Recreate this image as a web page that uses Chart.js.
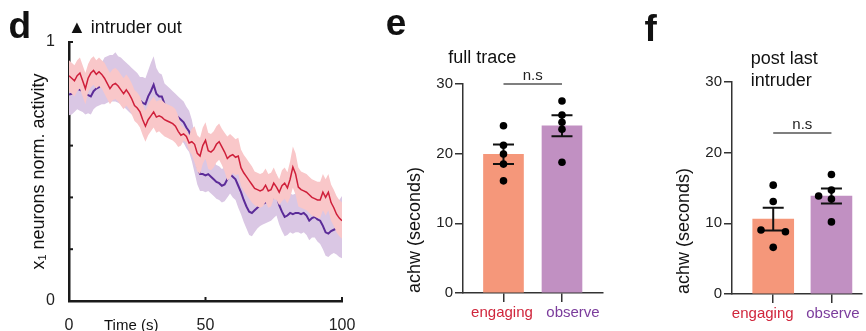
<!DOCTYPE html>
<html>
<head>
<meta charset="utf-8">
<script src="https://cdn.jsdelivr.net/npm/chart.js@4.4.0/dist/chart.umd.min.js"></script>
<style>
  html, body { margin: 0; padding: 0; background: #fff; }
  #wrap { position: relative; width: 866px; height: 331px; overflow: hidden; font-family: 'Liberation Sans', Arial, sans-serif; color: #111; }
  #wrap canvas { position: absolute; left: 0; top: 0; }
  .t { position: absolute; line-height: 1; white-space: nowrap; }
  .big { font-size: 37px; font-weight: bold; }
  .mid { font-size: 18px; }
</style>
</head>
<body>
<div id="wrap">
  <canvas id="cD" width="866" height="331"></canvas>
  <canvas id="cE" width="866" height="331"></canvas>
  <canvas id="cF" width="866" height="331"></canvas>
  <div class="t big" style="left:8.6px; top:7px;">d</div>
  <div class="t mid" style="left:68px; top:17.8px;">▲ intruder out</div>
  <div class="t" style="left:104px; top:317px; font-size:15px;">Time (s)</div>
  <div class="t big" style="left:385.7px; top:3.7px;">e</div>
  <div class="t mid" style="left:448.3px; top:47.8px;">full trace</div>
  <div class="t big" style="left:644.6px; top:10.4px;">f</div>
  <div class="t mid" style="left:750.7px; top:48.8px;">post last</div>
  <div class="t mid" style="left:750.7px; top:70.8px;">intruder</div>
</div>
<script>
// ---------- Panel d data (time in s, normalized activity) ----------
const timeS = Array.from({length: 101}, (_, i) => i);
const engagingMean = [
  0.87,0.86,0.85,0.87,0.88,0.85,0.82,0.86,0.88,0.89,
  0.875,0.885,0.875,0.86,0.84,0.82,0.835,0.84,0.83,0.815,
  0.80,0.815,0.80,0.78,0.755,0.745,0.73,0.70,0.675,0.70,
  0.715,0.73,0.71,0.715,0.71,0.70,0.695,0.69,0.685,0.675,
  0.655,0.64,0.645,0.635,0.61,0.615,0.605,0.57,0.56,0.60,
  0.62,0.58,0.575,0.585,0.605,0.615,0.595,0.575,0.55,0.56,
  0.565,0.555,0.56,0.515,0.495,0.48,0.465,0.45,0.435,0.43,
  0.425,0.43,0.447,0.425,0.43,0.455,0.44,0.42,0.445,0.455,
  0.437,0.47,0.517,0.49,0.44,0.43,0.425,0.42,0.41,0.40,
  0.395,0.39,0.39,0.42,0.40,0.42,0.38,0.36,0.335,0.32,
  0.31];
const engagingSem = [
  0.06,0.06,0.06,0.06,0.06,0.06,0.06,0.055,0.055,0.055,
  0.055,0.055,0.055,0.06,0.06,0.06,0.06,0.06,0.06,0.06,
  0.06,0.06,0.06,0.06,0.06,0.06,0.06,0.06,0.06,0.06,
  0.06,0.06,0.06,0.06,0.065,0.065,0.065,0.065,0.065,0.065,
  0.06,0.04,0.025,0.025,0.03,0.05,0.07,0.07,0.07,0.07,
  0.07,0.07,0.07,0.07,0.07,0.07,0.07,0.075,0.085,0.085,
  0.07,0.07,0.07,0.07,0.07,0.07,0.07,0.07,0.065,0.065,
  0.065,0.065,0.065,0.065,0.065,0.06,0.05,0.05,0.06,0.06,
  0.06,0.07,0.08,0.08,0.075,0.07,0.07,0.07,0.07,0.07,
  0.07,0.07,0.07,0.07,0.07,0.07,0.07,0.07,0.07,0.07,
  0.07];
const observeMean = [
  0.797,0.80,0.81,0.82,0.815,0.81,0.80,0.795,0.79,0.81,
  0.82,0.825,0.84,0.85,0.855,0.86,0.86,0.865,0.855,0.85,
  0.84,0.83,0.82,0.81,0.80,0.79,0.775,0.765,0.76,0.79,
  0.81,0.835,0.80,0.79,0.79,0.76,0.75,0.74,0.73,0.72,
  0.71,0.70,0.69,0.67,0.655,0.62,0.57,0.52,0.49,0.49,
  0.485,0.49,0.48,0.47,0.46,0.455,0.445,0.45,0.47,0.49,
  0.48,0.47,0.445,0.42,0.39,0.365,0.345,0.34,0.35,0.36,
  0.37,0.375,0.38,0.385,0.39,0.40,0.41,0.37,0.345,0.325,
  0.33,0.34,0.335,0.34,0.34,0.335,0.34,0.33,0.31,0.32,
  0.325,0.315,0.31,0.29,0.265,0.26,0.27,0.275,0.28,0.28,
  0.285];
const observeSem = [
  0.08,0.08,0.08,0.08,0.08,0.08,0.08,0.07,0.07,0.07,
  0.07,0.07,0.08,0.09,0.09,0.09,0.09,0.095,0.09,0.09,
  0.09,0.09,0.09,0.09,0.09,0.09,0.09,0.1,0.1,0.1,
  0.11,0.11,0.1,0.09,0.085,0.08,0.08,0.08,0.08,0.08,
  0.08,0.08,0.08,0.08,0.08,0.08,0.075,0.07,0.065,0.065,
  0.065,0.065,0.065,0.065,0.065,0.065,0.065,0.065,0.07,0.075,
  0.08,0.08,0.085,0.085,0.085,0.085,0.09,0.09,0.085,0.08,
  0.08,0.08,0.08,0.08,0.08,0.08,0.08,0.075,0.075,0.075,
  0.075,0.075,0.075,0.075,0.075,0.075,0.075,0.075,0.075,0.075,
  0.08,0.085,0.09,0.09,0.09,0.09,0.09,0.09,0.1,0.11,
  0.12];
const timeTicks = [0, 50, 100];

// ---------- Panels e / f data (achw, seconds) ----------
const groups = ['engaging', 'observe'];
const fullMean = [19.9, 24.0];
const fullSem = [1.4, 1.5];
const fullDotsEngaging = [24.0, 21.2, 19.95, 18.5, 16.1];
const fullDotsObserve = [27.56, 25.55, 24.5, 23.5, 18.76];
const fullDotsEngagingX = [0, 0, 0, 0, 0];
const fullDotsObserveX = [1, 1, 1, 1, 1];
const postMean = [10.6, 13.87];
const postSem = [1.6, 1.05];
const postDotsEngaging = [15.4, 13.1, 9.06, 8.8, 6.6];
const postDotsObserve = [16.9, 14.7, 13.87, 13.44, 10.2];
const postDotsEngagingX = [0, 0, -0.21, 0.21, 0];
const postDotsObserveX = [1, 1, 0.78, 1, 1];
const achwTicks = [0, 10, 20, 30];
const fullBracket = 30;
const postBracket = 22.8;

// ---------- styles ----------
const FONT = "'Liberation Sans', Arial, sans-serif";
const RED = '#cf1f3a', PURPLE = '#5b2b98';
const PINK = '#f9c7c9', LAV = '#dac7e4';
const SALMON = '#f5977a', LILAC = '#c190c2';
const LBL_COLORS = ['#d0263c', '#7b3c9c'];
Chart.defaults.font.family = FONT;
Chart.defaults.color = '#222';

const pts = (arr) => arr.map((v, i) => ({x: timeS[i], y: v}));
const lo = (m, s) => m.map((v, i) => v - s[i]);
const hi = (m, s) => m.map((v, i) => v + s[i]);
const line = (data, extra) => Object.assign({data: pts(data), pointRadius: 0, borderWidth: 0, fill: false, tension: 0}, extra);

// inward ticks for panel d
const inwardTicks = {
  id: 'inwardTicks',
  beforeDatasetsDraw(chart) {
    const {ctx, scales: {x, y}} = chart;
    ctx.save();
    ctx.strokeStyle = '#1a1a1a'; ctx.lineWidth = 2;
    [0.2, 0.4, 0.6, 0.8, 1].forEach(v => {
      const py = y.getPixelForValue(v);
      ctx.beginPath(); ctx.moveTo(x.left, py); ctx.lineTo(x.left + 4, py); ctx.stroke();
    });
    timeTicks.slice(1).forEach(v => {
      const px = x.getPixelForValue(v);
      ctx.beginPath(); ctx.moveTo(px, y.bottom); ctx.lineTo(px, y.bottom - 4); ctx.stroke();
    });
    ctx.restore();
  }
};

new Chart(document.getElementById('cD'), {
  type: 'line',
  data: {datasets: [
    line(lo(observeMean, observeSem), {order: 6}),
    line(hi(observeMean, observeSem), {order: 5, fill: '-1', backgroundColor: LAV}),
    line(observeMean, {order: 4, borderColor: PURPLE, borderWidth: 2}),
    line(lo(engagingMean, engagingSem), {order: 3}),
    line(hi(engagingMean, engagingSem), {order: 2, fill: '-1', backgroundColor: PINK}),
    line(engagingMean, {order: 1, borderColor: RED, borderWidth: 1.5})
  ]},
  options: {
    responsive: false, animation: false, devicePixelRatio: 1,
    layout: {padding: {left: 28, top: 42, right: 524, bottom: 0}},
    plugins: {legend: {display: false}, tooltip: {enabled: false}},
    scales: {
      x: {type: 'linear', min: 0, max: 100,
        afterFit: s => { s.height = 30; },
        afterBuildTicks: s => { s.ticks = timeTicks.map(v => ({value: v})); },
        ticks: {font: {size: 16}, padding: 7, maxRotation: 0, autoSkip: false},
        grid: {display: false},
        border: {color: '#1a1a1a', width: 2.5}},
      y: {min: 0, max: 1,
        afterFit: s => { s.width = 41; },
        ticks: {stepSize: 0.2, font: {size: 16}, padding: 6,
          callback: v => (Math.abs(v) < 1e-6 ? '0' : Math.abs(v - 1) < 1e-6 ? '1' : '')},
        grid: {display: false},
        border: {color: '#1a1a1a', width: 2.5},
        title: {display: true, text: 'x\u2081 neurons norm. activity', font: {size: 18}, padding: 0, color: '#111'}}
    }
  },
  plugins: [inwardTicks]
});

function barPanel(id, pad, yWidth, xHeight, xmin, xmax, mean, sem, dE, dO, xE, xO, bracket, barW, labelShift) {
  const errPlugin = {
    id: 'err' + id,
    afterDatasetDraw(chart, args) {
      if (args.index !== 1) return;
      const {ctx, scales: {x, y}} = chart;
      ctx.save();
      ctx.strokeStyle = '#111'; ctx.lineWidth = 2;
      mean.forEach((m, i) => {
        const px = x.getPixelForValue(i);
        const y1 = y.getPixelForValue(m - sem[i]), y2 = y.getPixelForValue(m + sem[i]);
        ctx.beginPath(); ctx.moveTo(px, y1); ctx.lineTo(px, y2);
        ctx.moveTo(px - 10.5, y1); ctx.lineTo(px + 10.5, y1);
        ctx.moveTo(px - 10.5, y2); ctx.lineTo(px + 10.5, y2);
        ctx.stroke();
      });
      ctx.restore();
    },
    afterDatasetsDraw(chart) {
      const {ctx, scales: {x, y}} = chart;
      const by = y.getPixelForValue(bracket);
      const x0 = x.getPixelForValue(0), x1 = x.getPixelForValue(1);
      ctx.save();
      ctx.strokeStyle = '#555'; ctx.lineWidth = 1.5;
      ctx.beginPath(); ctx.moveTo(x0, by); ctx.lineTo(x1, by); ctx.stroke();
      ctx.fillStyle = '#222'; ctx.font = '15px ' + FONT;
      ctx.textAlign = 'center'; ctx.textBaseline = 'alphabetic';
      ctx.fillText('n.s', (x0 + x1) / 2, by - 4);
      // category labels under the axis
      ctx.textBaseline = 'middle';
      groups.forEach((g, i) => {
        ctx.fillStyle = LBL_COLORS[i];
        ctx.fillText(g, x.getPixelForValue(i) + labelShift[i], y.bottom + 20);
      });
      ctx.restore();
    }
  };
  const dots = dE.map((v, i) => ({x: xE[i], y: v})).concat(dO.map((v, i) => ({x: xO[i], y: v})));
  new Chart(document.getElementById(id), {
    type: 'bar',
    data: {datasets: [
      {type: 'scatter', data: dots, order: 0, pointRadius: 3.8, pointBackgroundColor: '#000', pointBorderWidth: 0, showLine: false},
      {type: 'bar', data: mean.map((m, i) => ({x: i, y: m})), order: 1, backgroundColor: [SALMON, LILAC], barThickness: barW}
    ]},
    options: {
      responsive: false, animation: false, devicePixelRatio: 1,
      layout: {padding: pad},
      plugins: {legend: {display: false}, tooltip: {enabled: false}},
      scales: {
        x: {type: 'linear', min: xmin, max: xmax, offset: false,
          afterFit: s => { s.height = xHeight; },
          afterBuildTicks: s => { s.ticks = groups.map((g, i) => ({value: i})); },
          ticks: {display: false},
          grid: {display: true, offset: false, drawOnChartArea: false, drawTicks: true, tickLength: 9, color: '#333', lineWidth: 1.5},
          border: {color: '#333', width: 1.5}},
        y: {min: 0, max: 30,
          afterFit: s => { s.width = yWidth; },
          afterBuildTicks: s => { s.ticks = achwTicks.map(v => ({value: v})); },
          ticks: {font: {size: 15}, padding: 2},
          grid: {display: true, drawOnChartArea: false, drawTicks: true, tickLength: 8, color: '#333', lineWidth: 1.5},
          border: {color: '#333', width: 1.5},
          title: {display: true, text: 'achw (seconds)', align: 'start', font: {size: 18}, padding: 0, color: '#111'}}
      }
    },
    plugins: [errPlugin]
  });
}

barPanel('cE', {left: 404, top: 84, right: 263, bottom: 0}, 59, 38, -0.692, 1.701,
  fullMean, fullSem, fullDotsEngaging, fullDotsObserve, fullDotsEngagingX, fullDotsObserveX, fullBracket, 40, [-1.5, 11]);
barPanel('cF', {left: 673, top: 82, right: 0, bottom: 0}, 59, 37, -0.708, 1.525,
  postMean, postSem, postDotsEngaging, postDotsObserve, postDotsEngagingX, postDotsObserveX, postBracket, 41, [-10.5, 1.5]);
</script>
</body>
</html>
